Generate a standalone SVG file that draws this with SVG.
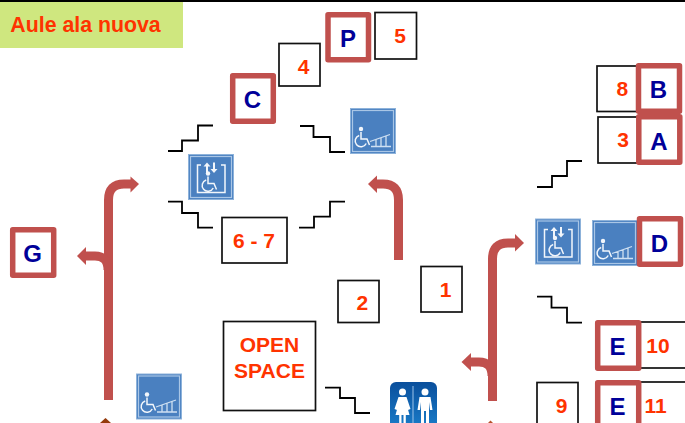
<svg xmlns="http://www.w3.org/2000/svg" xmlns:xlink="http://www.w3.org/1999/xlink" width="685" height="423" viewBox="0 0 685 423">
<style>
text{font-family:"Liberation Sans",Arial,sans-serif;font-weight:bold;text-anchor:middle}
.n{font-size:21px;fill:#ff3300}
.l{font-size:24px;fill:#000099}
.b{fill:#fff;stroke:#111;stroke-width:1.7}
.r{fill:#fff;stroke:#c0504d;stroke-width:5.5;stroke-linejoin:round}
.s{fill:none;stroke:#000;stroke-width:1.8}
.a{fill:none;stroke:#c0504d;stroke-width:9}
.h{fill:#c0504d}
.w{fill:none;stroke:#f2f6fb;stroke-width:1.5}
.f{fill:#f2f6fb}
.bg{fill:#4a80c0;stroke:#8db2da;stroke-width:1}
.fr{fill:none;stroke:#a9c6e6;stroke-width:1.2}
</style>
<defs>
<linearGradient id="wc" x1="0" y1="0" x2="0" y2="1"><stop offset="0" stop-color="#0a4f9c"/><stop offset="1" stop-color="#1f8ad6"/></linearGradient>
<g id="chair">
<circle cx="0" cy="-13" r="2.2" class="f"/>
<path class="w" d="M0-10V-3H6L8.500 3"/>
<path class="w" d="M-1.800-6.500A5.800 5.800 0 1 0 5.200 1.500"/>
</g>
<g id="ramp">
<rect x=".5" y=".5" width="45" height="45" class="bg"/>
<rect x="2.500" y="2.500" width="41" height="41" class="fr"/>
<use xlink:href="#chair" x="11" y="34"/>
<path d="M20 33.500L40 26.500M21 38.500H41M26 31V38M31 29.500V38M36 28V38" fill="none" stroke="#cfe0f2" stroke-width="1.300"/>
</g>
<g id="lift">
<rect x=".5" y=".5" width="45" height="45" class="bg"/>
<rect x="2.500" y="2.500" width="41" height="41" class="fr"/>
<path class="w" d="M13 11H9.500V38.500H37V11H33"/>
<path class="f" d="M19 8.500l-3.500 4h2.500V19h2v-6.500h2.500zM26 19l3.500-4h-2.500V8.500h-2V15h-2.500z"/>
<use xlink:href="#chair" x="20" y="32.500"/>
</g>
</defs>
<g id="header">
<rect x="0" y="0" width="685" height="2" fill="#000"/>
<rect x="0" y="2" width="183" height="46" fill="#cfe77f"/>
<text x="85.500" y="32" fill="#ff3300" style="font-size:21.300px">Aule ala nuova</text>
</g>
<g id="connectors">
<path class="s" d="M168 151H182V140.500H198V125.500H213"/>
<path class="s" d="M300 126H313.500V137H330V152H345"/>
<path class="s" d="M168 201.700H182V213H198V227.700H213"/>
<path class="s" d="M299 227.700H314V216.700H330V201.700H345"/>
<path class="s" d="M537 187H552V176H567V161H582"/>
<path class="s" d="M537 296.700H551.500V307.700H567V322.700H582"/>
<path class="s" d="M325 387.700H340V398H355V413H370"/>
<path class="a" d="M108.500 400V200Q108.500 184 124 184H132"/>
<polygon class="h" points="139,184 130.500,176.500 130.500,192.500"/>
<path class="a" d="M108 270Q108 256 95 256H85"/>
<polygon class="h" points="77,256 86,247 86,265"/>
<path class="a" d="M398.500 260V200Q398.500 184 383 184H376"/>
<polygon class="h" points="368,184 377,175.500 377,193"/>
<path class="a" d="M492.500 401V259Q492.500 243 508 243H516"/>
<polygon class="h" points="524,243 515,234 515,251.500"/>
<path class="a" d="M492 376Q492 362 479 362H470"/>
<polygon class="h" points="461.500,362 471,353 471,371"/>
<polygon points="105.500,418 100,423 111,423" fill="#953a0c"/>
<polygon points="490.500,420.500 488,423 493,423" fill="#b8502a"/>
</g>
<g id="icon-lift-1"><use xlink:href="#lift" x="188" y="154"/></g>
<g id="icon-ramp-1"><use xlink:href="#ramp" x="350" y="108"/></g>
<g id="icon-lift-2"><use xlink:href="#lift" x="535" y="218.500"/></g>
<g id="icon-ramp-2"><use xlink:href="#ramp" x="592" y="220"/></g>
<g id="icon-ramp-3"><use xlink:href="#ramp" x="136" y="373.500"/></g>
<g id="icon-wc">
<rect x="390" y="382" width="47" height="60" rx="6" fill="url(#wc)"/>
<path d="M413 386V423" stroke="#9cc3e8" stroke-width="1"/>
<circle cx="402.500" cy="392" r="3.500" fill="#fff"/>
<path fill="#fff" d="M398.500 397H406.500L410.500 409 408 410 406.500 404 409.500 415H405.800V423H403.500V415H401.500V423H399.200V415H395.500L398.500 404 397 410 394.500 409Z"/>
<circle cx="425" cy="392" r="3.500" fill="#fff"/>
<path fill="#fff" d="M419.500 397H430.500L432.500 410H430L429 402V423H426V411H424V423H421V402L420 410H417.500Z"/>
</g>
<g id="node-4"><rect class="b" x="279" y="43.500" width="41" height="42.500"/><text class="n" x="303.700" y="74">4</text></g>
<g id="node-c"><rect class="r" x="232.700" y="75.700" width="40.600" height="45.500"/><text class="l" x="252.500" y="108">C</text></g>
<g id="node-p"><rect class="r" x="328" y="14.700" width="40.500" height="45"/><text class="l" x="348" y="47">P</text></g>
<g id="node-5"><rect class="b" x="375" y="12.500" width="41.500" height="46.500"/><text class="n" x="400" y="43">5</text></g>
<g id="node-8"><rect class="b" x="597" y="66" width="41" height="45.500"/><text class="n" x="622.300" y="96">8</text></g>
<g id="node-3"><rect class="b" x="598" y="117" width="44" height="46"/><text class="n" x="623" y="147">3</text></g>
<g id="node-b"><rect class="r" x="638.500" y="65.800" width="41" height="45.500"/><text class="l" x="658.500" y="98">B</text></g>
<g id="node-a"><rect class="r" x="638.800" y="116.700" width="41" height="45.500"/><text class="l" x="659" y="150">A</text></g>
<g id="node-6-7"><rect class="b" x="222" y="217.500" width="65" height="45.500"/><text class="n" x="254" y="248">6 - 7</text></g>
<g id="node-g"><rect class="r" x="12.700" y="229.700" width="41" height="45.500"/><text class="l" x="32.700" y="262">G</text></g>
<g id="node-open-space"><rect class="b" x="223.500" y="321.500" width="92" height="89"/><text class="n" x="269.500" y="352">OPEN</text><text class="n" x="269.500" y="377.700">SPACE</text></g>
<g id="node-2"><rect class="b" x="338" y="280.500" width="41" height="42"/><text class="n" x="362.300" y="310">2</text></g>
<g id="node-1"><rect class="b" x="421" y="266.500" width="41" height="45.500"/><text class="n" x="445.700" y="297">1</text></g>
<g id="node-d"><rect class="r" x="639.500" y="218.700" width="41" height="45.500"/><text class="l" x="659.500" y="252">D</text></g>
<g id="node-10"><rect class="b" x="638" y="322" width="60" height="46"/><text class="n" x="658" y="353">10</text></g>
<g id="node-e1"><rect class="r" x="597.700" y="322.700" width="41" height="45.500"/><text class="l" x="617.500" y="354.700">E</text></g>
<g id="node-9"><rect class="b" x="537" y="382.500" width="41" height="50"/><text class="n" x="561.700" y="413">9</text></g>
<g id="node-11"><rect class="b" x="638" y="382" width="60" height="50"/><text class="n" x="655.700" y="413">11</text></g>
<g id="node-e2"><rect class="r" x="597.700" y="382.700" width="41" height="50"/><text class="l" x="617.500" y="414.700">E</text></g>
</svg>
